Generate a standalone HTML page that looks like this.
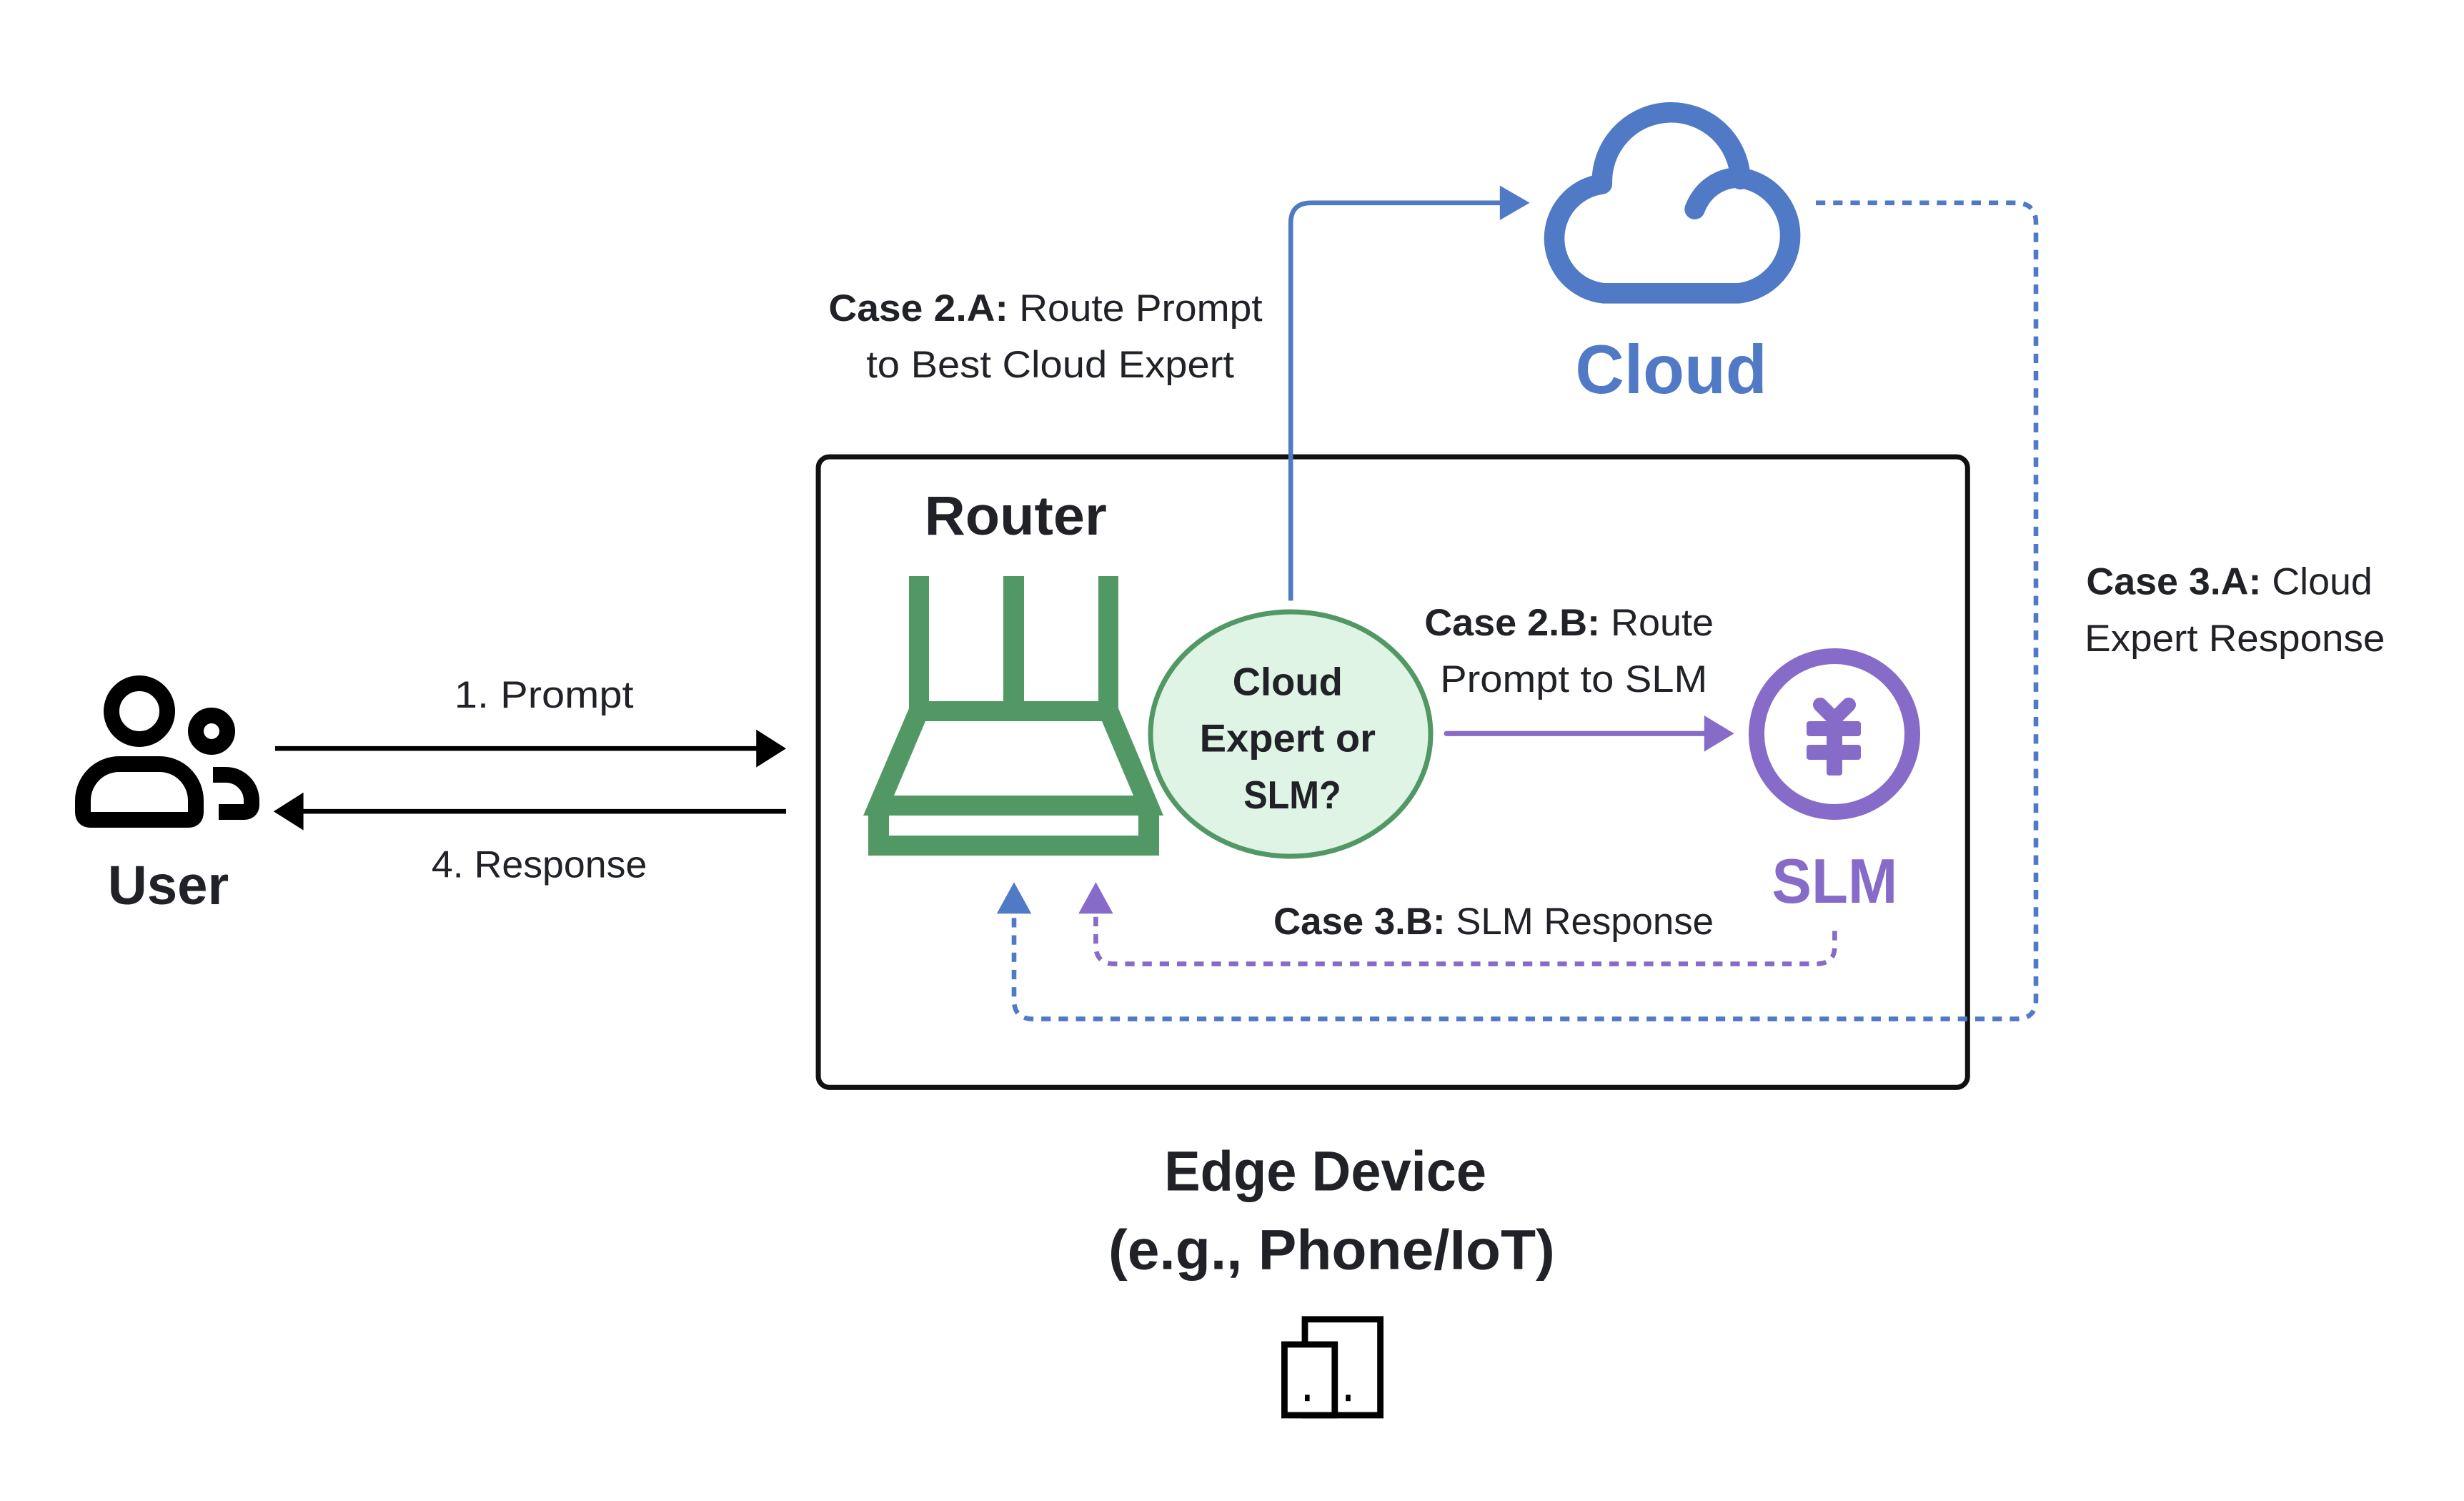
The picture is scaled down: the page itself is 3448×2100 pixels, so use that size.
<!DOCTYPE html>
<html><head><meta charset="utf-8"><style>
html,body{margin:0;padding:0;background:#fff;}
svg{display:block;}
text{font-family:"Liberation Sans",sans-serif;fill:#202228;}
.b{font-weight:bold;}
</style></head><body>
<svg width="3448" height="2100" viewBox="0 0 1567.27 954.55" xmlns="http://www.w3.org/2000/svg">
<rect x="0" y="0" width="1567.27" height="954.55" fill="#fff"/>

<!-- Edge device box -->
<rect x="520.5" y="290.5" width="731" height="401" rx="7" fill="none" stroke="#111" stroke-width="3.2"/>

<!-- Cloud icon -->
<path d="M1078,133 C1083,120 1094,113 1106,113 A37,37 0 0 1 1106,186.5 L1020,186.5 A35,35 0 0 1 1019,117 A44,44 0 0 1 1107,114" fill="none" stroke="#5079c6" stroke-width="13" stroke-linecap="round" stroke-linejoin="round"/>
<text x="1063" y="250" text-anchor="middle" class="b" font-size="44" style="fill:#5079c6" textLength="122" lengthAdjust="spacingAndGlyphs">Cloud</text>

<!-- Case 2.A arrow -->
<path d="M821,382 V142 Q821,129 834,129 H957" fill="none" stroke="#5079c6" stroke-width="3"/>
<polygon points="954,118 973,129 954,140" fill="#5079c6"/>

<!-- Case 3.A dotted -->
<path d="M1155,129 H1282 Q1295,129 1295,142 V636 Q1295,648 1282,648 H657 Q645,648 645,636 V582" fill="none" stroke="#5079c6" stroke-width="3" stroke-dasharray="6,5"/>
<polygon points="634,581 645,561 656,581" fill="#5079c6"/>

<!-- Case 3.B dashed -->
<path d="M1167,592 V602 Q1167,613 1155,613 H709 Q697,613 697,601 V582" fill="none" stroke="#876bc8" stroke-width="3" stroke-dasharray="6,5"/>
<polygon points="686,581 697,561 708,581" fill="#876bc8"/>

<!-- Case 2.B arrow -->
<line x1="920" y1="466.5" x2="1086" y2="466.5" stroke="#876bc8" stroke-width="3.2" stroke-linecap="round"/>
<polygon points="1084,455 1103,466.5 1084,478" fill="#876bc8"/>

<!-- Prompt / Response -->
<line x1="175" y1="476" x2="484" y2="476" stroke="#000" stroke-width="3"/>
<polygon points="481,464 500,476 481,488" fill="#000"/>
<line x1="500" y1="516" x2="190" y2="516" stroke="#000" stroke-width="3"/>
<polygon points="193,504 174,516 193,528" fill="#000"/>

<!-- Elements in original pixel coords -->
<g transform="scale(0.454545)">
  <!-- User icon -->
  <circle cx="195" cy="995" r="39" fill="none" stroke="#000" stroke-width="22"/>
  <circle cx="296" cy="1023" r="22" fill="none" stroke="#000" stroke-width="22"/>
  <path d="M116,1136 V1120 A51,51 0 0 1 167,1069 H223 A51,51 0 0 1 274,1120 V1136 Q274,1147 263,1147 H127 Q116,1147 116,1136 Z" fill="none" stroke="#000" stroke-width="22" stroke-linejoin="round"/>
  <path d="M306,1136 H341 Q352,1136 352,1125 V1120 A36,36 0 0 0 316,1084 H298" fill="none" stroke="#000" stroke-width="22"/>

  <!-- Router -->
  <path fill="#529865" fill-rule="evenodd" d="M1272,806 H1300 V981 H1404 V806 H1433 V981 H1537 V806 H1565 V991 L1628,1141 H1208 L1272,991 Z M1295,1009 H1542 L1586,1113 H1251 Z"/>
  <path fill="#529865" fill-rule="evenodd" d="M1215,1140 H1622 V1197 H1215 Z M1244,1140 H1593 V1169 H1244 Z"/>

  <!-- Ellipse -->
  <ellipse cx="1806" cy="1027" rx="196" ry="171" fill="#dff4e4" stroke="#529865" stroke-width="7"/>

  <!-- SLM icon -->
  <circle cx="2567" cy="1027" r="109" fill="none" stroke="#876bc8" stroke-width="22"/>
  <path d="M2547,986 L2567,1006 L2587,986" fill="none" stroke="#876bc8" stroke-width="20" stroke-linecap="round" stroke-linejoin="round"/>
  <rect x="2528" y="1009" width="76" height="21" rx="4" fill="#876bc8"/>
  <rect x="2528" y="1042" width="76" height="21" rx="4" fill="#876bc8"/>
  <rect x="2556" y="1000" width="22" height="85" rx="4" fill="#876bc8"/>
</g>

<!-- Edge icon -->
<rect x="830" y="839" width="48" height="61" fill="#fff" stroke="#000" stroke-width="4"/>
<rect x="817" y="855" width="32" height="45" fill="#fff" stroke="#000" stroke-width="4"/>
<rect x="830" y="887" width="3" height="4" fill="#000"/>
<rect x="856" y="887" width="3" height="4" fill="#000"/>

<!-- Texts -->
<text x="665" y="204" text-anchor="middle" font-size="24" textLength="276" lengthAdjust="spacingAndGlyphs"><tspan class="b">Case 2.A:</tspan> Route Prompt</text>
<text x="668" y="240" text-anchor="middle" font-size="24" textLength="234" lengthAdjust="spacingAndGlyphs">to Best Cloud Expert</text>

<text x="646" y="340" text-anchor="middle" class="b" font-size="35" textLength="116" lengthAdjust="spacingAndGlyphs">Router</text>

<text x="819" y="442" text-anchor="middle" class="b" font-size="25" textLength="70" lengthAdjust="spacingAndGlyphs">Cloud</text>
<text x="819" y="478" text-anchor="middle" class="b" font-size="25" textLength="112" lengthAdjust="spacingAndGlyphs">Expert or</text>
<text x="822" y="514" text-anchor="middle" class="b" font-size="25" textLength="62" lengthAdjust="spacingAndGlyphs">SLM?</text>

<text x="906" y="404" font-size="24" textLength="184" lengthAdjust="spacingAndGlyphs"><tspan class="b">Case 2.B:</tspan> Route</text>
<text x="916" y="440" font-size="24" textLength="170" lengthAdjust="spacingAndGlyphs">Prompt to SLM</text>

<text x="1327" y="378" font-size="24" textLength="182" lengthAdjust="spacingAndGlyphs"><tspan class="b">Case 3.A:</tspan> Cloud</text>
<text x="1326" y="414" font-size="24" textLength="191" lengthAdjust="spacingAndGlyphs">Expert Response</text>

<text x="346" y="450" text-anchor="middle" font-size="24" textLength="114" lengthAdjust="spacingAndGlyphs">1. Prompt</text>
<text x="343" y="558" text-anchor="middle" font-size="24" textLength="137" lengthAdjust="spacingAndGlyphs">4. Response</text>

<text x="107" y="575" text-anchor="middle" class="b" font-size="35" textLength="77" lengthAdjust="spacingAndGlyphs">User</text>

<text x="1167" y="574" text-anchor="middle" class="b" font-size="40" style="fill:#876bc8" textLength="80" lengthAdjust="spacingAndGlyphs">SLM</text>

<text x="950" y="594" text-anchor="middle" font-size="24" textLength="280" lengthAdjust="spacingAndGlyphs"><tspan class="b">Case 3.B:</tspan> SLM Response</text>

<text x="843" y="757" text-anchor="middle" class="b" font-size="36" textLength="205" lengthAdjust="spacingAndGlyphs">Edge Device</text>
<text x="847" y="807" text-anchor="middle" class="b" font-size="36" textLength="284" lengthAdjust="spacingAndGlyphs">(e.g., Phone/IoT)</text>
</svg>
</body></html>
